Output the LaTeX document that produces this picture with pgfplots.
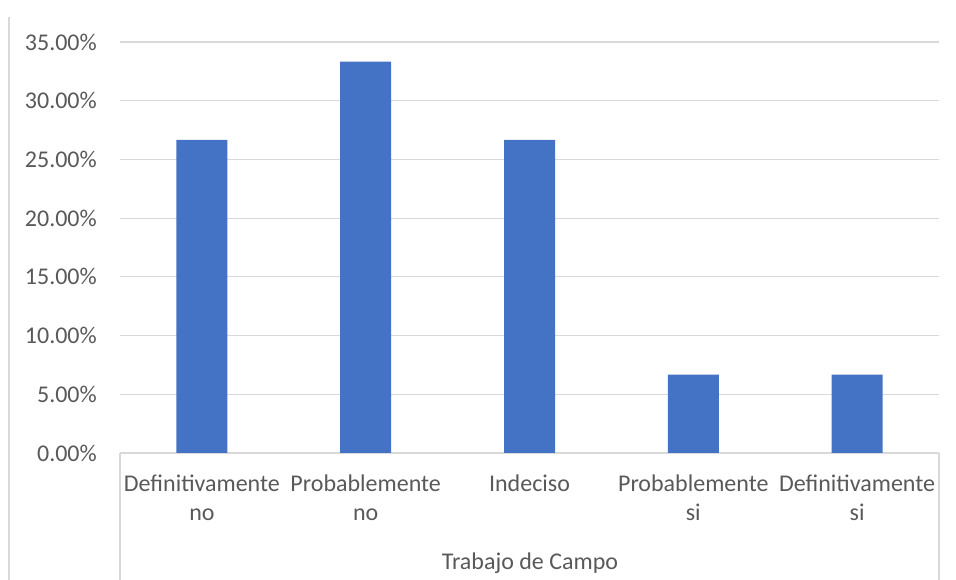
\documentclass[border=0pt]{standalone}
\usepackage{pgfplots}
\pgfplotsset{compat=1.18}
\usepackage{fontspec}
\setmainfont{Carlito}
\definecolor{barblue}{HTML}{4472C4}
\definecolor{gridgray}{HTML}{D9D9D9}
\definecolor{textgray}{HTML}{595959}
\begin{document}
\begin{tikzpicture}[x=1bp,y=1bp]
\useasboundingbox (0,0) rectangle (956,580);
\draw[gridgray, line width=1.2bp] (9,0) -- (9,563);
\begin{axis}[
  at={(120bp,127bp)}, anchor=south west,
  width=819bp, height=411bp, scale only axis,
  xmin=-0.5, xmax=4.5, ymin=0, ymax=35,
  ytick={0,5,...,35},
  yticklabel={\pgfmathprintnumber[fixed,fixed zerofill,precision=2,assume math mode=true]{\tick}\%},
  yticklabel style={anchor=east, inner sep=0pt, xshift=-23bp, text=textgray, font=\fontsize{24bp}{28bp}\selectfont},
  ymajorgrids, grid style={gridgray, line width=1.2bp},
  axis x line*=bottom, axis y line*=left,
  y axis line style={draw=none},
  x axis line style={gridgray, line width=1.2bp, -},
  major tick length=0pt,
  xtick={0,1,2,3,4},
  xticklabels={{Definitivamente\\no},{Probablemente\\no},{Indeciso},{Probablemente\\si},{Definitivamente\\si}},
  xticklabel style={anchor=north, align=center, inner sep=0pt, yshift=-22bp, text=textgray, font=\fontsize{24bp}{29bp}\selectfont},
  clip=false,
]
\addplot[ybar, bar width=51bp, fill=barblue, draw=none] coordinates {(0,26.67) (1,33.33) (2,26.67) (3,6.67) (4,6.67)};
\end{axis}
\draw[gridgray, line width=1.2bp] (120,127) -- (120,0);
\draw[gridgray, line width=1.2bp] (939,127) -- (939,0);
\node[text=textgray, font=\fontsize{24bp}{28bp}\selectfont] at (530,17) {Trabajo de Campo};
\end{tikzpicture}
\end{document}
